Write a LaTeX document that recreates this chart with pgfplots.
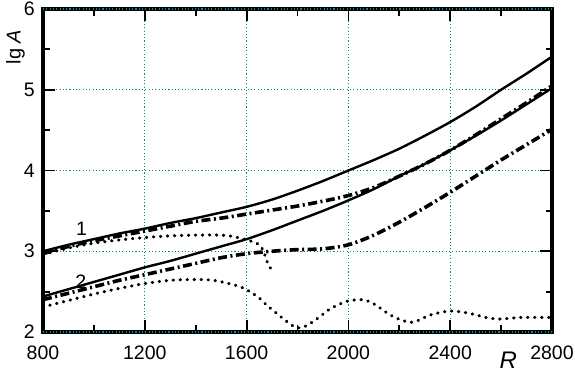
\documentclass[border=0pt]{standalone}
\usepackage{fontspec}
\setmainfont{Liberation Sans}
\usepackage{pgfplots}
\pgfplotsset{compat=1.18}
\definecolor{gridteal}{RGB}{0,140,140}
\begin{document}
\begin{tikzpicture}
\useasboundingbox (-43bp,-41bp) rectangle (532bp,332bp);
\begin{axis}[
  scale only axis, width=509bp, height=323bp,
  xmin=800, xmax=2800, ymin=2, ymax=6,
  xtick={800,1200,1600,2000,2400,2800},
  ytick={2,3,4,5,6},
  minor x tick num=1, minor y tick num=1,
  tick align=inside,
  major tick length=12bp, minor tick length=6.5bp,
  major tick style={line width=1.8bp, black},
  minor tick style={line width=1.8bp, black},
  axis line style={line width=3.4bp, black},
  grid=major,
  major grid style={gridteal, line width=1.1bp, dash pattern=on 1.1bp off 2.2bp},
  scaled ticks=false,
  /pgf/number format/1000 sep={},
  /pgf/number format/assume math mode=true,
  tick label style={font=\fontsize{19.5bp}{22bp}\selectfont},
  xticklabel style={inner sep=0pt, anchor=north, yshift=-14bp},
  yticklabel style={inner sep=0pt, anchor=east, xshift=-8bp},
  xlabel={\textit{R}},
  xlabel style={at={(axis description cs:0.914,0)}, anchor=center, inner sep=0pt, yshift=-28bp, font=\fontsize{24bp}{26bp}\selectfont},
  clip=false,
]
% upper group (1)
\addplot[black, line width=2.4bp, smooth] coordinates {
(800,3.00)(900,3.08)(1000,3.15)(1100,3.22)(1200,3.28)(1300,3.35)(1400,3.41)(1500,3.48)(1600,3.55)(1700,3.64)(1800,3.75)(1900,3.87)(2000,4.00)(2100,4.13)(2200,4.27)(2300,4.43)(2400,4.60)(2500,4.79)(2600,5.00)(2700,5.20)(2800,5.41)};
\addplot[black, line width=3.6bp, smooth, dash pattern=on 9bp off 3.5bp on 2bp off 3.5bp] coordinates {
(800,2.97)(900,3.06)(1000,3.13)(1100,3.19)(1200,3.25)(1300,3.31)(1400,3.37)(1500,3.41)(1600,3.46)(1700,3.51)(1800,3.56)(1900,3.62)(2000,3.69)(2100,3.79)(2200,3.93)(2300,4.08)(2400,4.25)(2500,4.44)(2600,4.64)(2700,4.84)(2800,5.05)};
\addplot[black, line width=3.2bp, line cap=round, dash pattern=on 0.4bp off 6.6bp, smooth] coordinates {
(800,2.96)(900,3.04)(1000,3.10)(1100,3.14)(1200,3.17)(1300,3.19)(1400,3.20)(1500,3.20)(1550,3.18)(1600,3.14)(1640,3.10)(1660,3.04)(1670,2.97)(1682,2.86)(1698,2.77)};
% lower group (2)
\addplot[black, line width=2.4bp, smooth] coordinates {
(800,2.44)(900,2.53)(1000,2.62)(1100,2.71)(1200,2.80)(1300,2.88)(1400,2.97)(1500,3.06)(1600,3.15)(1700,3.26)(1800,3.38)(1900,3.50)(2000,3.63)(2100,3.77)(2200,3.93)(2300,4.08)(2400,4.25)(2500,4.43)(2600,4.62)(2700,4.82)(2800,5.02)};
\addplot[black, line width=3.6bp, smooth, dash pattern=on 9bp off 3.5bp on 2bp off 3.5bp] coordinates {
(800,2.40)(900,2.48)(1000,2.56)(1100,2.64)(1200,2.71)(1300,2.78)(1400,2.85)(1500,2.92)(1600,2.97)(1700,3.00)(1800,3.02)(1900,3.03)(2000,3.08)(2100,3.20)(2200,3.36)(2300,3.54)(2400,3.73)(2500,3.93)(2600,4.13)(2700,4.32)(2800,4.51)};
\addplot[black, line width=3.2bp, line cap=round, dash pattern=on 0.4bp off 6.6bp, smooth] coordinates {
(800,2.31)(900,2.39)(1000,2.47)(1100,2.54)(1200,2.60)(1300,2.64)(1400,2.65)(1470,2.64)(1530,2.60)(1575,2.56)(1613,2.50)(1650,2.42)(1680,2.33)(1730,2.20)(1770,2.10)(1800,2.05)(1830,2.07)(1862,2.13)(1900,2.22)(1930,2.29)(1993,2.38)(2050,2.40)(2080,2.38)(2110,2.33)(2150,2.24)(2190,2.17)(2242,2.12)(2280,2.15)(2321,2.21)(2400,2.26)(2478,2.23)(2540,2.18)(2596,2.16)(2674,2.18)(2785,2.18)(2800,2.18)};
\node[font=\fontsize{19.5bp}{22bp}\selectfont, inner sep=0pt] at (axis cs:951,3.28) {1};
\node[font=\fontsize{19.5bp}{22bp}\selectfont, inner sep=0pt] at (axis cs:949,2.62) {2};
\end{axis}
% frame and ticks drawn over the axis
\draw[black, line width=3.4bp, line join=miter] (0,0) rectangle (509bp,323bp);
\foreach \x in {0,101.8,203.6,305.4,407.2,509} {
  \draw[black, line width=1.8bp] (\x*1bp,0) -- ++(0,12bp);
  \draw[black, line width=1.8bp] (\x*1bp,323bp) -- ++(0,-12bp);
}
\foreach \x in {50.9,152.7,254.5,356.3,458.1} {
  \draw[black, line width=1.8bp] (\x*1bp,0) -- ++(0,6.5bp);
  \draw[black, line width=1.8bp] (\x*1bp,323bp) -- ++(0,-6.5bp);
}
\foreach \y in {80.75,161.5,242.25} {
  \draw[black, line width=1.8bp] (0,\y*1bp) -- ++(12bp,0);
  \draw[black, line width=1.8bp] (509bp,\y*1bp) -- ++(-12bp,0);
}
\foreach \y in {40.375,121.125,201.875,282.625} {
  \draw[black, line width=1.8bp] (0,\y*1bp) -- ++(6.5bp,0);
  \draw[black, line width=1.8bp] (509bp,\y*1bp) -- ++(-6.5bp,0);
}
\draw[gridteal, line width=1.1bp, dash pattern=on 1.1bp off 2.2bp] (0,0) -- (509bp,0);
\draw[gridteal, line width=1.1bp, dash pattern=on 1.1bp off 2.2bp] (0,323bp) -- (509bp,323bp);
\node[font=\fontsize{20bp}{22bp}\selectfont, inner sep=0pt, rotate=90, anchor=south] at (-18bp,285bp) {lg \textit{A}};
\end{tikzpicture}
\end{document}
